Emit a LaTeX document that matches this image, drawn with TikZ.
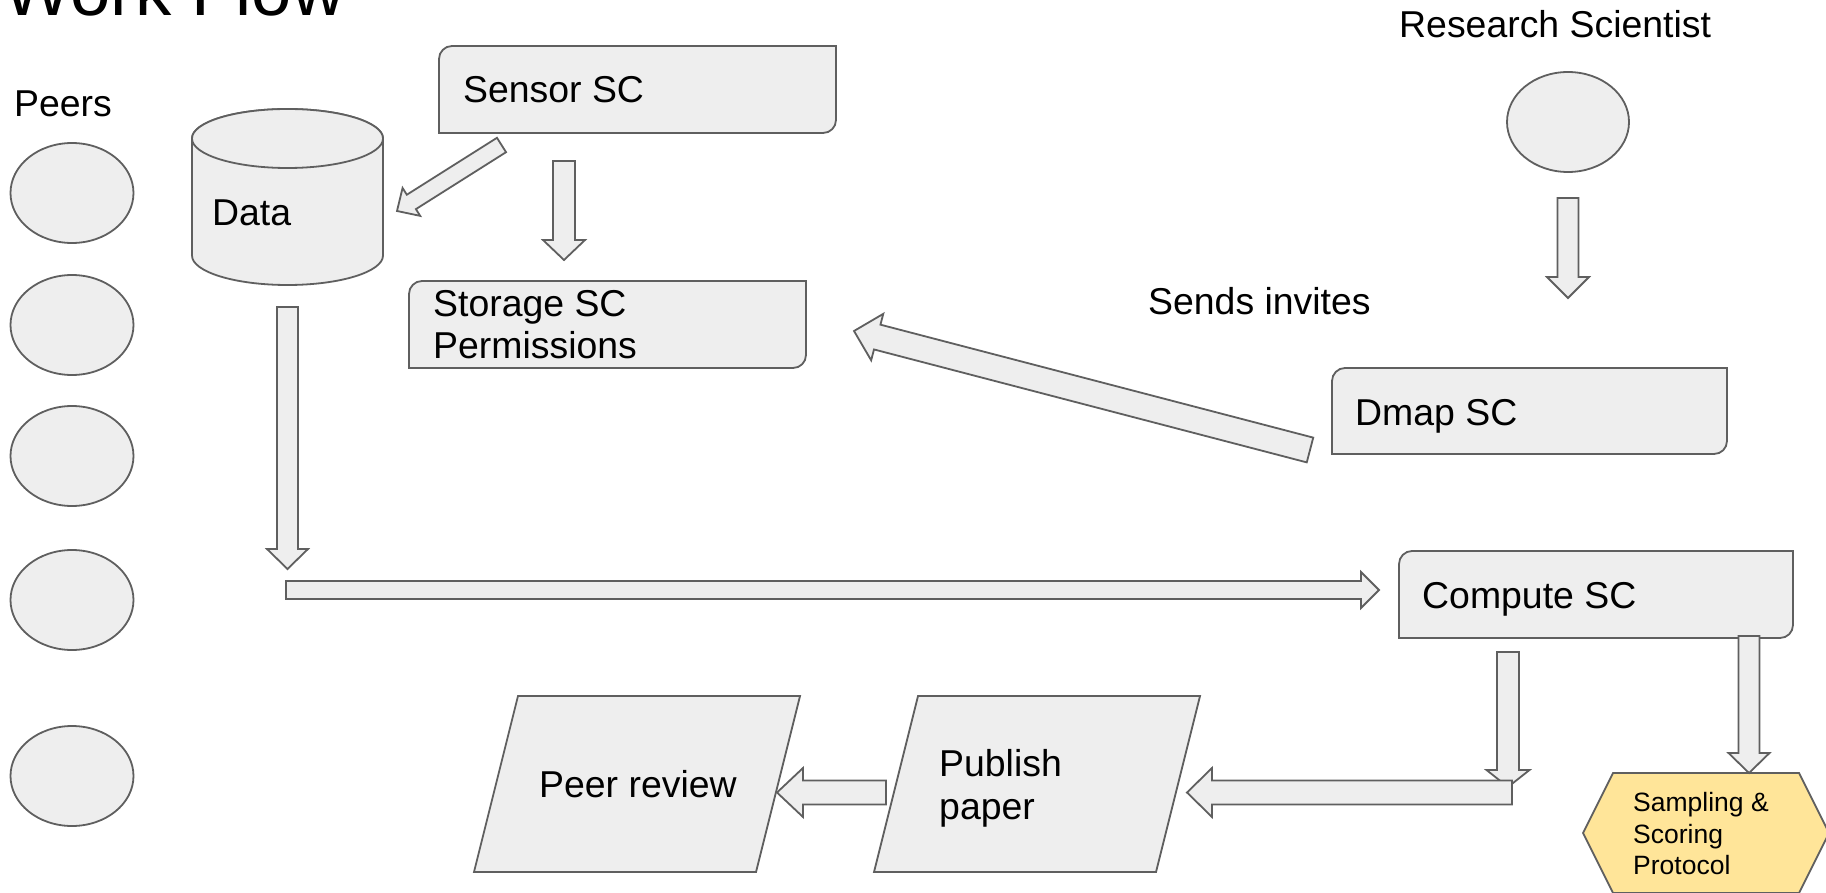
\documentclass[tikz,border=0pt]{standalone}
\usepackage{fontspec}
\setmainfont{Liberation Sans}
\usetikzlibrary{calc,shapes.geometric}
\definecolor{boxfill}{HTML}{EEEEEE}
\definecolor{edgegray}{HTML}{5F5F5F}
\definecolor{hexfill}{HTML}{FFE599}
% #1 tail, #2 tip, #3 half shaft width, #4 half head width, #5 head length
\newcommand\blockarrow[5]{%
  \coordinate (ba-h) at ($(#2)!#5!(#1)$);
  \draw[shapestyle] ($(#1)!#3!90:(#2)$) -- ($(ba-h)!#3!-90:(#1)$) -- ($(ba-h)!#4!-90:(#1)$) -- (#2)
     -- ($(ba-h)!#4!90:(#1)$) -- ($(ba-h)!#3!90:(#1)$) -- ($(#1)!#3!-90:(#2)$) -- cycle;
}
\begin{document}
\begin{tikzpicture}[x=1pt,y=-1pt,
  shapestyle/.style={draw=edgegray,fill=boxfill,line width=1.8pt,line join=miter},
  lbl/.style={anchor=base west,inner sep=0pt,font=\fontsize{37.4}{44}\selectfont},
  peer/.style={ellipse,draw=edgegray,fill=boxfill,line width=1.8pt,minimum width=123pt,minimum height=100pt,inner sep=0pt}]
\useasboundingbox (0,0) rectangle (1826,893);
\fill[white] (0,0) rectangle (1826,893);

% title
\node[lbl,font=\fontsize{72.5}{80}\selectfont] (title) at (3.3,16) {Work Flow};

% peers
\node[lbl] (peerslbl) at (14,117) {Peers};
\node[peer] (p1) at (72,193) {};
\node[peer] (p2) at (72,325) {};
\node[peer] (p3) at (72,456) {};
\node[peer] (p4) at (72,600) {};
\node[peer] (p5) at (72,776) {};

% data cylinder
\draw[shapestyle] (192,138.5) -- (192,255.5) arc[start angle=180,end angle=360,x radius=95.5pt,y radius=29.5pt]
   -- (383,138.5) arc[start angle=0,end angle=180,x radius=95.5pt,y radius=29.5pt] -- cycle;
\draw[shapestyle] (287.5,138.5) ellipse[x radius=95.5pt,y radius=29.5pt];
\node[lbl] (data) at (212,226) {Data};

% SC boxes (rounded top-left and bottom-right)
\draw[shapestyle] (439,133) -- (439,59) arc[start angle=180,end angle=90,radius=13pt] -- (836,46) -- (836,120) arc[start angle=0,end angle=-90,radius=13pt] -- cycle;
\node[lbl] (sensor) at (463,103) {Sensor SC};

\draw[shapestyle] (409,368) -- (409,294) arc[start angle=180,end angle=90,radius=13pt] -- (806,281) -- (806,355) arc[start angle=0,end angle=-90,radius=13pt] -- cycle;
\node[lbl] (storage) at (433,317) {Storage SC};
\node[lbl] (storage2) at (433,359) {Permissions};

\draw[shapestyle] (1332,454) -- (1332,381) arc[start angle=180,end angle=90,radius=13pt] -- (1727,368) -- (1727,441) arc[start angle=0,end angle=-90,radius=13pt] -- cycle;
\node[lbl] (dmap) at (1355,425) {Dmap SC};

\draw[shapestyle] (1399,638) -- (1399,564) arc[start angle=180,end angle=90,radius=13pt] -- (1793,551) -- (1793,625) arc[start angle=0,end angle=-90,radius=13pt] -- cycle;
\node[lbl] (compute) at (1422,608) {Compute SC};

% research scientist
\node[lbl] (rslbl) at (1399,38) {Research Scientist};
\node[peer,minimum width=122pt,minimum height=100pt] (rs) at (1568,122) {};
\node[lbl] (invites) at (1148,315) {Sends invites};

% parallelograms
\draw[shapestyle] (518,696) -- (800,696) -- (756,872) -- (474,872) -- cycle;
\node[lbl] (review) at (539,797) {Peer review};
\draw[shapestyle] (918,696) -- (1200,696) -- (1156,872) -- (874,872) -- cycle;
\node[lbl] (publish) at (939,776) {Publish};
\node[lbl] (publish2) at (939,819) {paper};

% hexagon
\draw[shapestyle,fill=hexfill] (1613,773) -- (1799,773) -- (1829,833) -- (1799,893) -- (1613,893) -- (1583,833) -- cycle;
\node[lbl,font=\fontsize{26.5}{31.5}\selectfont] (sampling) at (1633,811) {Sampling \&};
\node[lbl,font=\fontsize{26.5}{31.5}\selectfont] (sampling2) at (1633,843) {Scoring};
\node[lbl,font=\fontsize{26.5}{31.5}\selectfont] (sampling3) at (1633,874) {Protocol};

% arrow end points
\coordinate (sdT) at (501.5,145); \coordinate (sdH) at (397,211);
\coordinate (ssT) at (564,161); \coordinate (ssH) at (564,260);
\coordinate (rdT) at (1568,198); \coordinate (rdH) at (1568,298);
\coordinate (dsT) at (1310,450); \coordinate (dsH) at (854,331);
\coordinate (ddT) at (287.5,307); \coordinate (ddH) at (287.5,569);
\coordinate (hcT) at (286,590); \coordinate (hcH) at (1379,590);
\coordinate (cdT) at (1508,652); \coordinate (cdH) at (1508,787);
\coordinate (cpT) at (1512,792.5); \coordinate (cpH) at (1187,792.5);
\coordinate (prT) at (886,792.5); \coordinate (prH) at (777,792.5);
\coordinate (csT) at (1749,636); \coordinate (csH) at (1749,773);

\blockarrow{sdT}{sdH}{8.5pt}{16.5pt}{17pt}
\blockarrow{ssT}{ssH}{11pt}{21pt}{20pt}
\blockarrow{rdT}{rdH}{10.5pt}{21pt}{21pt}
\blockarrow{dsT}{dsH}{12.8pt}{24pt}{24pt}
\blockarrow{ddT}{ddH}{10.5pt}{20.5pt}{20pt}
\blockarrow{hcT}{hcH}{9pt}{18pt}{18pt}
\blockarrow{cdT}{cdH}{11pt}{21.5pt}{17pt}
\blockarrow{cpT}{cpH}{12pt}{24.5pt}{25pt}
\blockarrow{prT}{prH}{12pt}{24.5pt}{26pt}
\blockarrow{csT}{csH}{10.5pt}{20.5pt}{20pt}
\end{tikzpicture}
\end{document}
